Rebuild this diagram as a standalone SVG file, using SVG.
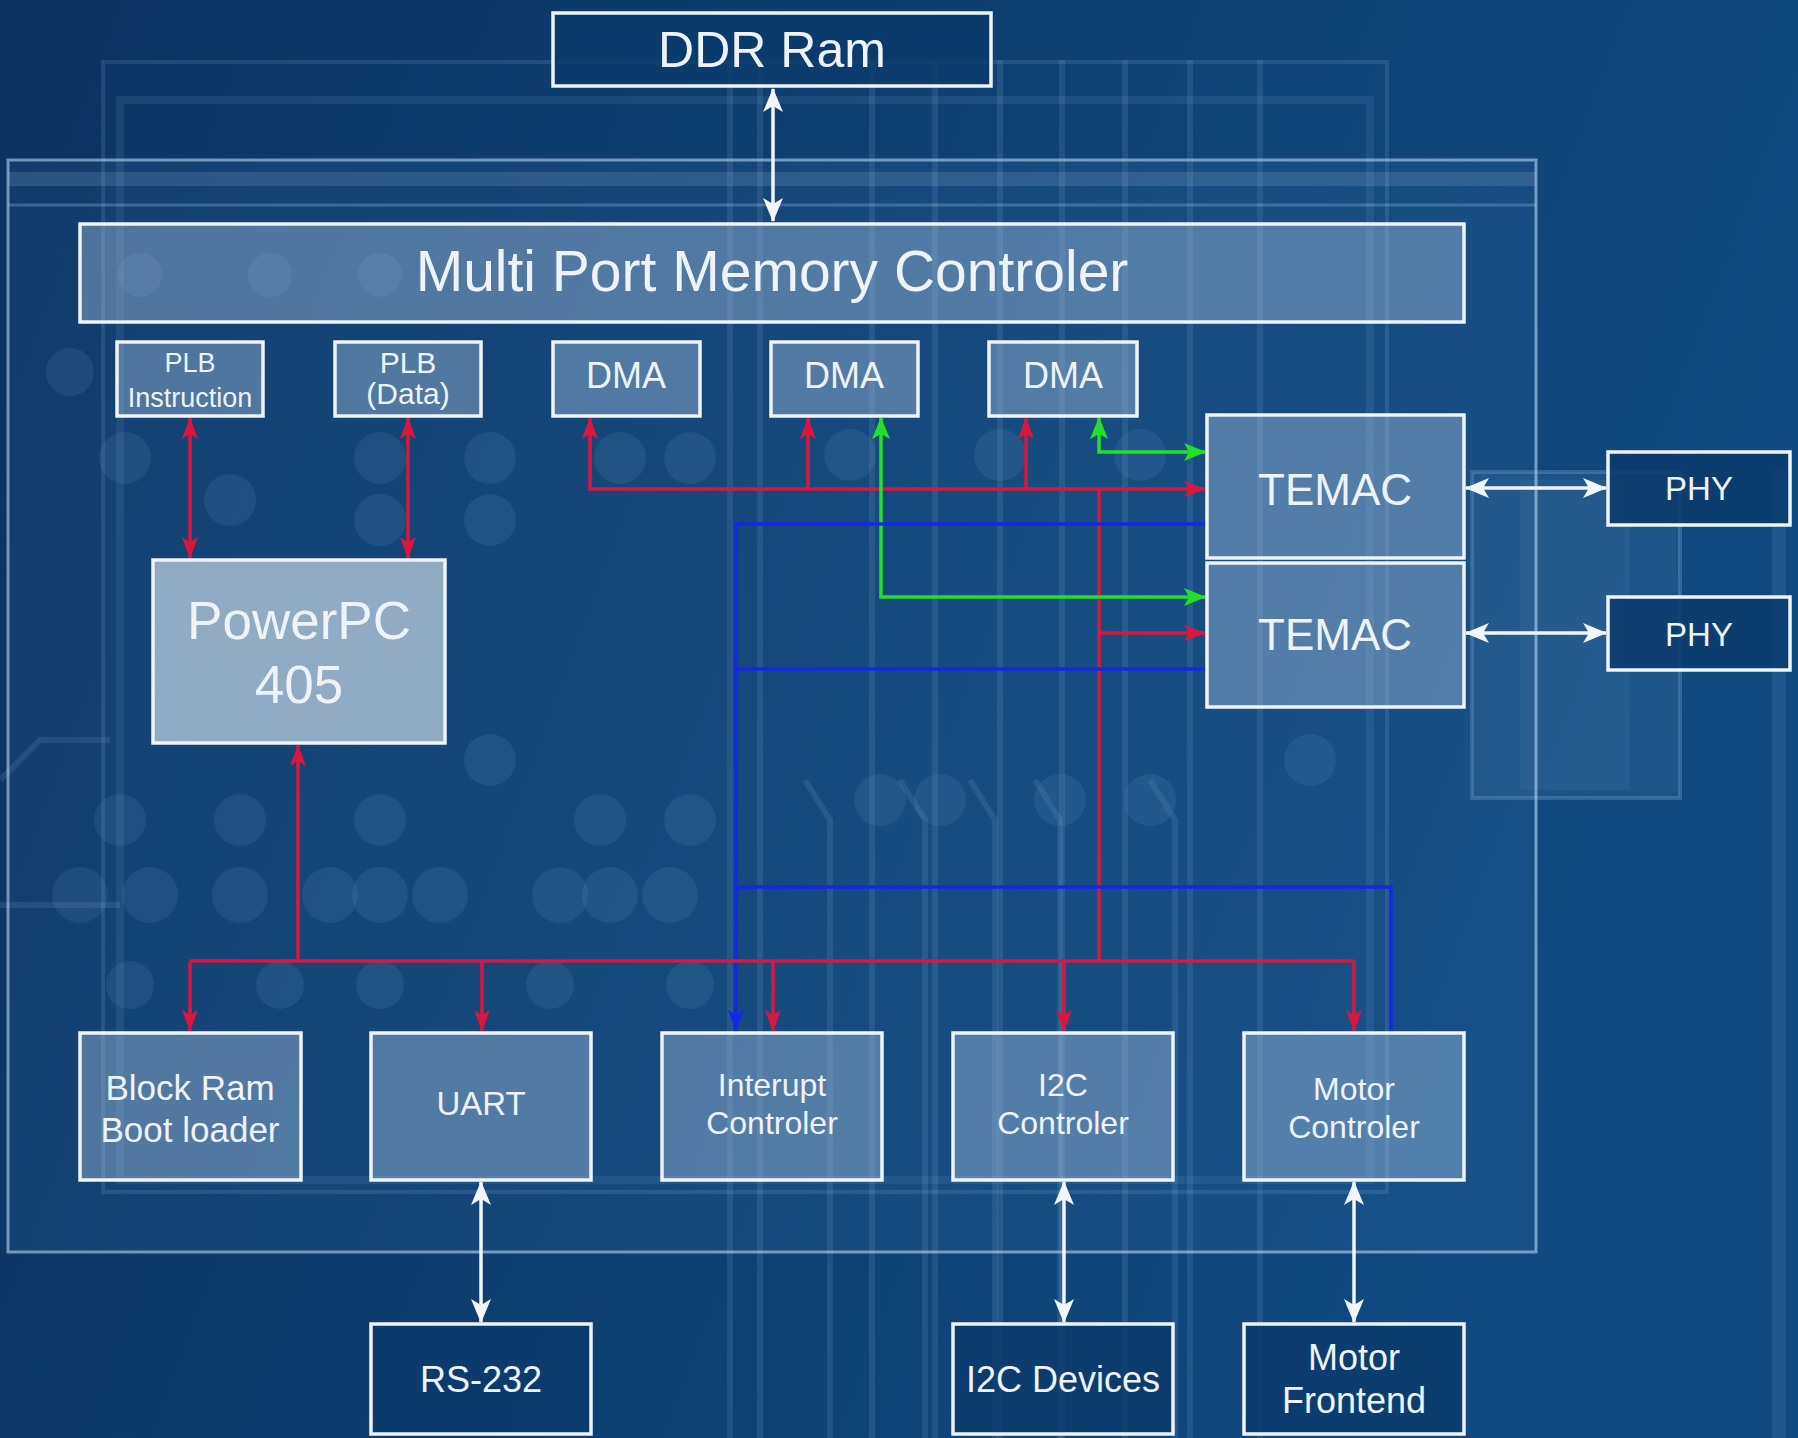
<svg xmlns="http://www.w3.org/2000/svg" width="1798" height="1438" viewBox="0 0 1798 1438">
<defs>
  <linearGradient id="bg" x1="0" y1="0" x2="1" y2="0.3">
    <stop offset="0" stop-color="#0a3261"/>
    <stop offset="0.6" stop-color="#0e4173"/>
    <stop offset="1" stop-color="#104a80"/>
  </linearGradient>
  <marker id="ar" viewBox="0 0 22 16" refX="21" refY="8" markerWidth="22" markerHeight="16" markerUnits="userSpaceOnUse" orient="auto-start-reverse">
    <path d="M0,0 L22,8 L0,16 L5,8 z" fill="#d8173f"/>
  </marker>
  <marker id="ag" viewBox="0 0 22 18" refX="21" refY="9" markerWidth="22" markerHeight="18" markerUnits="userSpaceOnUse" orient="auto-start-reverse">
    <path d="M0,0 L22,9 L0,18 L5,9 z" fill="#22e02a"/>
  </marker>
  <marker id="ab" viewBox="0 0 22 16" refX="21" refY="8" markerWidth="22" markerHeight="16" markerUnits="userSpaceOnUse" orient="auto-start-reverse">
    <path d="M0,0 L22,8 L0,16 L5,8 z" fill="#1428e6"/>
  </marker>
  <marker id="aw" viewBox="0 0 24 20" refX="23" refY="10" markerWidth="24" markerHeight="20" markerUnits="userSpaceOnUse" orient="auto-start-reverse">
    <path d="M0,0 L24,10 L0,20 L6,10 z" fill="#f2f6fa"/>
  </marker>
  <style>
    .blk{fill:#b4cde8;fill-opacity:0.38;stroke:#eef4fa;stroke-width:3.5}
    .cpu{fill:#c2d2e2;fill-opacity:0.72;stroke:#eef4fa;stroke-width:3.5}
    .ext{fill:#0c3b6c;fill-opacity:0.85;stroke:#eef4fa;stroke-width:3.5}
    .t{font-family:"Liberation Sans","DejaVu Sans",Arial,sans-serif;fill:#eef3f8;text-anchor:middle}
    .r{fill:none;stroke:#d8173f;stroke-width:3.5}
    .g{fill:none;stroke:#22e02a;stroke-width:3.5}
    .b{fill:none;stroke:#1428e6;stroke-width:3.5}
    .w{fill:none;stroke:#f2f6fa;stroke-width:3.5}
    .deco{fill:none;stroke:#9fc3e6;stroke-opacity:0.13;stroke-width:6}
    .pad{fill:#7fa9d2;fill-opacity:0.12}
  </style>
</defs>

<!-- background -->
<rect x="0" y="0" width="1798" height="1438" fill="url(#bg)"/>
<g id="background">
  <rect x="103" y="62" width="1284" height="1130" fill="#1a5a96" fill-opacity="0.10" stroke="#9fc3e6" stroke-opacity="0.15" stroke-width="4"/>
  <rect x="120" y="100" width="1250" height="1080" fill="none" stroke="#9fc3e6" stroke-opacity="0.10" stroke-width="8"/>
  <g class="deco">
    <path d="M730,60 V1438 M760,60 V1438 M872,60 V1438 M935,60 V1438 M1000,60 V1438 M1062,60 V1438 M1125,60 V1438 M1190,60 V1438 M1260,60 V1438"/>
    <path d="M805,780 L830,820 V1438 M900,780 L925,820 V1438 M970,780 L995,820 V1438 M1035,780 L1060,820 V1438 M1150,780 L1175,820 V1438"/>
    <path d="M0,905 H120 M0,780 L40,740 H110"/>
  </g>
  <rect x="1472" y="472" width="208" height="326" fill="#8fb6dc" fill-opacity="0.10" stroke="#9fc3e6" stroke-opacity="0.25" stroke-width="4"/>
  <rect x="1520" y="480" width="110" height="310" fill="#8fb6dc" fill-opacity="0.08"/>
  <rect x="1772" y="470" width="14" height="968" fill="#8fb6dc" fill-opacity="0.12"/>
  <g class="pad">
    <circle cx="70" cy="372" r="24"/><circle cx="125" cy="458" r="26"/><circle cx="230" cy="500" r="26"/><circle cx="380" cy="458" r="26"/><circle cx="380" cy="520" r="26"/><circle cx="490" cy="458" r="26"/><circle cx="490" cy="520" r="26"/><circle cx="620" cy="458" r="26"/><circle cx="690" cy="458" r="26"/>
    <circle cx="120" cy="820" r="26"/><circle cx="240" cy="820" r="26"/><circle cx="380" cy="820" r="26"/><circle cx="490" cy="760" r="26"/><circle cx="600" cy="820" r="26"/><circle cx="690" cy="820" r="26"/>
    <circle cx="80" cy="895" r="28"/><circle cx="150" cy="895" r="28"/><circle cx="240" cy="895" r="28"/><circle cx="330" cy="895" r="28"/><circle cx="380" cy="895" r="28"/><circle cx="440" cy="895" r="28"/><circle cx="560" cy="895" r="28"/><circle cx="610" cy="895" r="28"/><circle cx="670" cy="895" r="28"/>
    <circle cx="130" cy="985" r="24"/><circle cx="280" cy="985" r="24"/><circle cx="380" cy="985" r="24"/><circle cx="550" cy="985" r="24"/><circle cx="690" cy="985" r="24"/>
    <circle cx="850" cy="455" r="26"/><circle cx="1000" cy="455" r="26"/><circle cx="1140" cy="455" r="26"/><circle cx="880" cy="800" r="26"/><circle cx="940" cy="800" r="26"/><circle cx="1060" cy="800" r="26"/><circle cx="1150" cy="800" r="26"/><circle cx="1310" cy="760" r="26"/>
    <circle cx="140" cy="275" r="22"/><circle cx="270" cy="275" r="22"/><circle cx="380" cy="275" r="22"/>
  </g>
</g>

<!-- FPGA frame -->
<g id="fpga">
  <rect x="8" y="160" width="1528" height="1092" fill="#5a96cf" fill-opacity="0.10" stroke="#b7d3ee" stroke-opacity="0.6" stroke-width="3"/>
  <rect x="8" y="172" width="1528" height="14" fill="#9fc3e6" fill-opacity="0.18"/>
  <line x1="8" y1="205" x2="1536" y2="205" stroke="#9fc3e6" stroke-opacity="0.3" stroke-width="3"/>
</g>

<!-- connectors -->
<g id="connectors">
  <path class="w" d="M773,89 V221" marker-start="url(#aw)" marker-end="url(#aw)"/>
  <path class="r" d="M190,418 V558" marker-start="url(#ar)" marker-end="url(#ar)"/>
  <path class="r" d="M408,418 V558" marker-start="url(#ar)" marker-end="url(#ar)"/>
  <path class="r" d="M590,418 V489 H1205" marker-start="url(#ar)" marker-end="url(#ar)"/>
  <path class="r" d="M808,489 V418" marker-end="url(#ar)"/>
  <path class="r" d="M1026,489 V418" marker-end="url(#ar)"/>
  <path class="r" d="M1099,489 V961"/>
  <path class="r" d="M1099,633 H1205" marker-end="url(#ar)"/>
  <path class="g" d="M1099,418 V452 H1205" marker-start="url(#ag)" marker-end="url(#ag)"/>
  <path class="g" d="M881,418 V597 H1205" marker-start="url(#ag)" marker-end="url(#ag)"/>
  <path class="b" d="M1206,524 H736 V1031" marker-end="url(#ab)"/>
  <path class="b" d="M1206,669 H736"/>
  <path class="b" d="M736,887 H1391 V1032"/>
  <path class="r" d="M190,961 H1354"/>
  <path class="r" d="M298,961 V745" marker-end="url(#ar)"/>
  <path class="r" d="M190,961 V1031" marker-end="url(#ar)"/>
  <path class="r" d="M482,961 V1031" marker-end="url(#ar)"/>
  <path class="r" d="M773,961 V1031" marker-end="url(#ar)"/>
  <path class="r" d="M1064,961 V1031" marker-end="url(#ar)"/>
  <path class="r" d="M1354,961 V1031" marker-end="url(#ar)"/>
  <path class="w" d="M1466,488 H1606" marker-start="url(#aw)" marker-end="url(#aw)"/>
  <path class="w" d="M1466,633 H1606" marker-start="url(#aw)" marker-end="url(#aw)"/>
  <path class="w" d="M481,1182 V1322" marker-start="url(#aw)" marker-end="url(#aw)"/>
  <path class="w" d="M1064,1182 V1322" marker-start="url(#aw)" marker-end="url(#aw)"/>
  <path class="w" d="M1354,1182 V1322" marker-start="url(#aw)" marker-end="url(#aw)"/>
</g>

<!-- nodes -->
<g id="ddr"><rect class="ext" x="553" y="13" width="438" height="73"/><text class="t" x="772" y="67" font-size="50">DDR Ram</text></g>
<g id="mpmc"><rect class="blk" x="80" y="224" width="1384" height="98"/><text class="t" x="772" y="291" font-size="57">Multi Port Memory Controler</text></g>
<g id="plb-instr"><rect class="blk" x="117" y="342" width="146" height="74"/><text class="t" x="190" y="372" font-size="27">PLB</text><text class="t" x="190" y="407" font-size="27">Instruction</text></g>
<g id="plb-data"><rect class="blk" x="335" y="342" width="146" height="74"/><text class="t" x="408" y="373" font-size="30">PLB</text><text class="t" x="408" y="404" font-size="30">(Data)</text></g>
<g id="dma1"><rect class="blk" x="553" y="342" width="147" height="74"/><text class="t" x="626" y="388" font-size="36">DMA</text></g>
<g id="dma2"><rect class="blk" x="771" y="342" width="147" height="74"/><text class="t" x="844" y="388" font-size="36">DMA</text></g>
<g id="dma3"><rect class="blk" x="989" y="342" width="148" height="74"/><text class="t" x="1063" y="388" font-size="36">DMA</text></g>
<g id="temac1"><rect class="blk" x="1207" y="415" width="257" height="143"/><text class="t" x="1335" y="505" font-size="44">TEMAC</text></g>
<g id="temac2"><rect class="blk" x="1207" y="563" width="257" height="144"/><text class="t" x="1335" y="650" font-size="44">TEMAC</text></g>
<g id="phy1"><rect class="ext" x="1608" y="452" width="182" height="73"/><text class="t" x="1699" y="500" font-size="33">PHY</text></g>
<g id="phy2"><rect class="ext" x="1608" y="597" width="182" height="73"/><text class="t" x="1699" y="646" font-size="33">PHY</text></g>
<g id="ppc"><rect class="cpu" x="153" y="560" width="292" height="183"/><text class="t" x="299" y="639" font-size="53">PowerPC</text><text class="t" x="299" y="703" font-size="53">405</text></g>
<g id="bram"><rect class="blk" x="80" y="1033" width="221" height="147"/><text class="t" x="190" y="1100" font-size="35">Block Ram</text><text class="t" x="190" y="1142" font-size="35">Boot loader</text></g>
<g id="uart"><rect class="blk" x="371" y="1033" width="220" height="147"/><text class="t" x="481" y="1115" font-size="33">UART</text></g>
<g id="intc"><rect class="blk" x="662" y="1033" width="220" height="147"/><text class="t" x="772" y="1096" font-size="32">Interupt</text><text class="t" x="772" y="1134" font-size="32">Controler</text></g>
<g id="i2cc"><rect class="blk" x="953" y="1033" width="220" height="147"/><text class="t" x="1063" y="1096" font-size="32">I2C</text><text class="t" x="1063" y="1134" font-size="32">Controler</text></g>
<g id="motorc"><rect class="blk" x="1244" y="1033" width="220" height="147"/><text class="t" x="1354" y="1100" font-size="32">Motor</text><text class="t" x="1354" y="1138" font-size="32">Controler</text></g>
<g id="rs232"><rect class="ext" x="371" y="1324" width="220" height="110"/><text class="t" x="481" y="1392" font-size="36">RS-232</text></g>
<g id="i2cdev"><rect class="ext" x="953" y="1324" width="220" height="110"/><text class="t" x="1063" y="1392" font-size="36">I2C Devices</text></g>
<g id="motorfe"><rect class="ext" x="1244" y="1324" width="220" height="110"/><text class="t" x="1354" y="1370" font-size="36">Motor</text><text class="t" x="1354" y="1413" font-size="36">Frontend</text></g>
</svg>
